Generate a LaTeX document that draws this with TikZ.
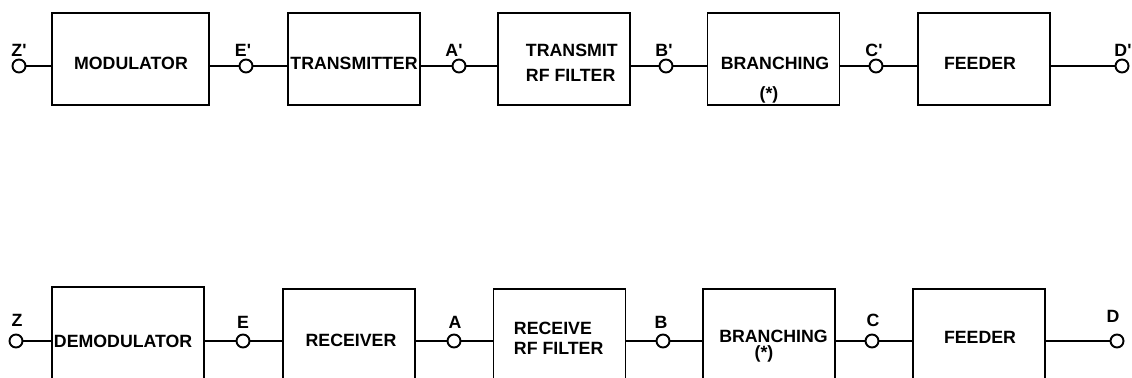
\documentclass[tikz,border=0pt]{standalone}
\usepackage{fontspec}
\setmainfont{Liberation Sans}
\usetikzlibrary{calc}

\begin{document}
\begin{tikzpicture}[x=0.02cm,y=-0.02cm,line width=1.1pt,font=\fontsize{10.1}{11.5}\selectfont\bfseries]
\tikzstyle{blk}=[draw,minimum height=1.84cm,minimum width=2.64cm,inner sep=0pt]
\tikzstyle{term}=[draw,circle,fill=white,inner sep=0pt,minimum size=0.26cm]
\tikzstyle{lbl}=[inner sep=0pt]
\useasboundingbox (0,0) rectangle (1132,378);
% transmit side
\node[blk,minimum width=3.14cm] (mod) at (130.5,59) {};
\node[blk] (tx) at (354,59) {}; \node[blk] (tf) at (564,59) {};
\node[blk] (tbr) at (773.5,59) {}; \node[blk] (tfd) at (984,59) {};
\node[lbl] at (131,63) {MODULATOR}; \node[lbl] at (354,63) {TRANSMITTER};
\node[lbl,anchor=west,align=left] at (525,63) {TRANSMIT\\[3pt]RF FILTER};
\node[lbl] at (775,63) {BRANCHING}; \node[lbl] at (769,95) {(*)};
\node[lbl] at (980,63) {FEEDER};
\node[term] (zt) at (19,66) {}; \node[term] (et) at (246,66) {}; \node[term] (at) at (459,66) {};
\node[term] (bt) at (666,66) {}; \node[term] (ct) at (876,66) {}; \node[term] (dt) at (1122,66) {};
\draw (zt) -- (mod.west |- zt);
\draw (mod.east |- et) -- (et) -- (tx.west |- et);
\draw (tx.east |- at) -- (at) -- (tf.west |- at);
\draw (tf.east |- bt) -- (bt) -- (tbr.west |- bt);
\draw (tbr.east |- ct) -- (ct) -- (tfd.west |- ct);
\draw (tfd.east |- dt) -- (dt);
\node[lbl] (zlt) at (19,50) {Z\textquotesingle}; \node[lbl] (elt) at (243,50) {E\textquotesingle};
\node[lbl] (alt) at (454,50) {A\textquotesingle}; \node[lbl] (blt) at (664,50) {B\textquotesingle};
\node[lbl] (clt) at (874,50) {C\textquotesingle}; \node[lbl] (dlt) at (1123,50) {D\textquotesingle};
% receive side
\node[blk,minimum width=3.04cm] (dem) at (128,333) {};
\node[blk] (rx) at (349,335) {}; \node[blk] (rf) at (559.5,335) {};
\node[blk] (rbr) at (769,335) {}; \node[blk] (rfd) at (979,335) {};
\node[lbl,anchor=west] at (53,341) {DEMODULATOR}; \node[lbl] at (351,340) {RECEIVER};
\node[lbl,anchor=west,align=left] at (513,338) {RECEIVE\\RF FILTER};
\node[lbl] at (773.5,336) {BRANCHING}; \node[lbl] at (764,354) {(*)};
\node[lbl] at (980,337) {FEEDER};
\node[term] (zr) at (16,341) {}; \node[term] (er) at (243,341) {}; \node[term] (ar) at (454,341) {};
\node[term] (br) at (663,341) {}; \node[term] (cr) at (872,341) {}; \node[term] (dr) at (1117,341) {};
\draw (zr) -- (dem.west |- zr);
\draw (dem.east |- er) -- (er) -- (rx.west |- er);
\draw (rx.east |- ar) -- (ar) -- (rf.west |- ar);
\draw (rf.east |- br) -- (br) -- (rbr.west |- br);
\draw (rbr.east |- cr) -- (cr) -- (rfd.west |- cr);
\draw (rfd.east |- dr) -- (dr);
\node[lbl] (zlr) at (17,320) {Z}; \node[lbl] (elr) at (243,322) {E};
\node[lbl] (alr) at (455,322) {A}; \node[lbl] (blr) at (661,322) {B};
\node[lbl] (clr) at (873,320) {C}; \node[lbl] (dlr) at (1113,316) {D};
\end{tikzpicture}
\end{document}
